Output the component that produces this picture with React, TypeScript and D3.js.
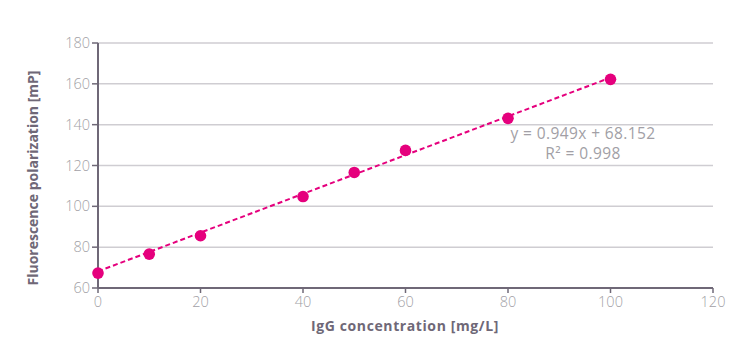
import React from "react";
import * as d3 from "d3";

const concentrations = [0, 10, 20, 40, 50, 60, 80, 100];
const polarization = [67.3, 76.6, 85.6, 104.8, 116.6, 127.4, 143.1, 162.2];
const xTicks = [0, 20, 40, 60, 80, 100, 120];
const yTicks = [60, 80, 100, 120, 140, 160, 180];
const slope = 0.949;
const intercept = 68.152;
const eqLabel = "y = 0.949x + 68.152";
const r2Label = "R² = 0.998";

const W = 751, H = 356;
const M = { left: 98, right: 713, top: 43, bottom: 288 };
const FONT = "'Open Sans', Lato, sans-serif";
const MAGENTA = "#e5007d";
const AXIS = "#6f6877";
const GRID = "#cfcdd2";
const TICKTXT = "#a29fa6";

export default function App() {
  const x = d3.scaleLinear().domain([0, 120]).range([M.left, M.right]);
  const y = d3.scaleLinear().domain([60, 180]).range([M.bottom, M.top]);
  const trend = d3.line<number>().x((d) => x(d)).y((d) => y(slope * d + intercept));
  return (
    <svg width={W} height={H} style={{ position: "absolute", left: 0, top: 0 }} fontFamily={FONT}>
      <rect width={W} height={H} fill="#fff" />
      {yTicks.map((t) => (
        <g key={t}>
          {t !== 60 && (
            <line x1={M.left} x2={M.right} y1={y(t)} y2={y(t)} stroke={GRID} strokeWidth={1.5} />
          )}
          <line x1={M.left - 6} x2={M.left} y1={y(t)} y2={y(t)} stroke={AXIS} strokeWidth={1.5} />
          <text x={M.left - 8} y={y(t)} dy="0.35em" textAnchor="end" fontSize={14.5} fill={TICKTXT} fontWeight={300}>
            {t}
          </text>
        </g>
      ))}
      {xTicks.map((t) => (
        <g key={t}>
          <line x1={x(t)} x2={x(t)} y1={M.bottom} y2={M.bottom + 5} stroke={AXIS} strokeWidth={1.5} />
          <text x={x(t)} y={M.bottom + 19} textAnchor="middle" fontSize={14.5} fill={TICKTXT} fontWeight={300}>
            {t}
          </text>
        </g>
      ))}
      <line x1={M.left} x2={M.left} y1={M.top} y2={M.bottom} stroke={AXIS} strokeWidth={2} />
      <line x1={M.left} x2={M.right} y1={M.bottom} y2={M.bottom} stroke={AXIS} strokeWidth={2} />
      <path d={trend([0, 100]) || ""} fill="none" stroke={MAGENTA} strokeWidth={2} strokeDasharray="5,3" />
      {concentrations.map((c, i) => (
        <circle key={c} cx={x(c)} cy={y(polarization[i])} r={5.8} fill={MAGENTA} />
      ))}
      <text x={583} y={139} textAnchor="middle" fontSize={15.5} letterSpacing={0.4} fill={TICKTXT}>
        {eqLabel}
      </text>
      <text x={583} y={159} textAnchor="middle" fontSize={15.5} letterSpacing={0.4} fill={TICKTXT}>
        {r2Label}
      </text>
      <text x={405} y={331} textAnchor="middle" fontSize={14} fontWeight={700} letterSpacing={0.6} fill={AXIS}>
        IgG concentration [mg/L]
      </text>
      <text
        transform={`translate(38,178) rotate(-90)`}
        textAnchor="middle"
        fontSize={14}
        fontWeight={700}
        fill={AXIS}
      >
        Fluorescence polarization [mP]
      </text>
    </svg>
  );
}
